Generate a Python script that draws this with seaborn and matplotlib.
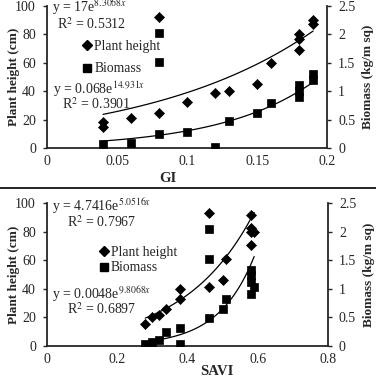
import numpy as np
import pandas as pd
import matplotlib
matplotlib.use('Agg')
import matplotlib.pyplot as plt
import seaborn as sb
from matplotlib.lines import Line2D
from matplotlib.ticker import FormatStrFormatter


# GI panel
gi_height_x = [0.04, 0.04, 0.06, 0.08, 0.08, 0.10, 0.12, 0.13, 0.15, 0.16, 0.18, 0.18, 0.18, 0.19, 0.19]
gi_height_y = [18, 15, 21, 25, 92, 32.5, 38.5, 40, 45, 60, 69, 80, 77, 90, 87]
gi_bio_x = [0.04, 0.06, 0.08, 0.08, 0.08, 0.10, 0.12, 0.13, 0.15, 0.16, 0.18, 0.18, 0.18, 0.19, 0.19]
gi_bio_y = [0.07, 0.09, 0.25, 2.02, 1.51, 0.28, 0.02, 0.48, 0.62, 0.79, 1.11, 1.0, 0.9, 1.3, 1.2]
gi_fit_height = (17, 8.3068, 'y = 17e$^{8.3068x}$', 'R$^2$ = 0.5312')
gi_fit_bio = (0.068, 14.931, 'y = 0.068e$^{14.931x}$', 'R$^2$ = 0.3901')

# SAVI panel
savi_height_x = [0.28, 0.30, 0.32, 0.34, 0.38, 0.38, 0.46, 0.46, 0.50, 0.51, 0.58, 0.58, 0.58, 0.59, 0.58]
savi_height_y = [15.5, 20, 22, 26, 33, 40, 41, 93, 46, 61, 91.5, 82.5, 80, 80, 70.5]
savi_bio_x = [0.28, 0.30, 0.32, 0.34, 0.38, 0.38, 0.46, 0.46, 0.46, 0.50, 0.51, 0.58, 0.58, 0.58, 0.59, 0.58]
savi_bio_y = [0.035, 0.07, 0.1, 0.25, 0.31, 0.03, 0.49, 1.52, 2.05, 0.65, 0.82, 1.33, 1.24, 1.12, 1.03, 0.91]
savi_fit_height = (4.7416, 5.0516, 'y = 4.7416e$^{5.0516x}$', 'R$^2$ = 0.7967')
savi_fit_bio = (0.0048, 9.8068, 'y = 0.0048e$^{9.8068x}$', 'R$^2$ = 0.6897')


def main():
    sb.set_style('white')
    plt.rcParams['font.family'] = ['Liberation Serif', 'DejaVu Serif']
    plt.rcParams['mathtext.fontset'] = 'stix'

    fig = plt.figure(figsize=(3.76, 3.81), dpi=100)

    ax1 = fig.add_axes([0.125, 0.6115, 0.745, 0.3727])
    ax2 = fig.add_axes([0.125, 0.0919, 0.747, 0.3753])

    draw_panel(ax1, gi_height_x, gi_height_y, gi_bio_x, gi_bio_y,
               gi_fit_height, gi_fit_bio, (0.04, 0.19), 0.2, [0, 0.05, 0.1, 0.15, 0.2], 'GI',
               text_pos=[(0.018, 0.99), (0.036, 0.875), (0.02, 0.415), (0.055, 0.31)],
               legend_pos=(0.11, 0.8), label_pos=(0.43, -0.17), spacing=0.7)
    draw_panel(ax2, savi_height_x, savi_height_y, savi_bio_x, savi_bio_y,
               savi_fit_height, savi_fit_bio, (0.28, 0.59), 0.8, [0, 0.2, 0.4, 0.6, 0.8], 'SAVI',
               text_pos=[(0.018, 0.975), (0.07, 0.865), (0.018, 0.36), (0.07, 0.26)],
               legend_pos=(0.17, 0.74), label_pos=(0.605, -0.13), spacing=0.2)

    fig.add_artist(Line2D([0, 1], [0.507, 0.507], color='k', lw=1.2, transform=fig.transFigure))

    plt.savefig('out.png', dpi=100)
    plt.close()


def draw_panel(ax, hx, hy, bx, by, fit_h, fit_b, fit_range, xmax, xticks, xlabel,
               text_pos, legend_pos, label_pos, spacing):
    axr = ax.twinx()

    sb.scatterplot(x=hx, y=hy, ax=ax, marker='D', color='k', s=26, edgecolor='k', linewidth=0.5)
    sb.scatterplot(x=bx, y=by, ax=axr, marker='s', color='k', s=30, edgecolor='k', linewidth=0.5)

    xs = np.linspace(fit_range[0], fit_range[1], 60)
    sb.lineplot(x=xs, y=fit_h[0] * np.exp(fit_h[1] * xs), ax=ax, color='k', lw=0.9)
    sb.lineplot(x=xs, y=fit_b[0] * np.exp(fit_b[1] * xs), ax=axr, color='k', lw=0.9)

    ax.set_xlim(0, xmax)
    ax.set_ylim(0, 100)
    axr.set_ylim(0, 2.5)
    ax.set_xticks(xticks)
    ax.set_yticks(range(0, 101, 20))
    axr.set_yticks([0, 0.5, 1, 1.5, 2, 2.5])
    ax.xaxis.set_major_formatter(FormatStrFormatter('%g'))
    axr.yaxis.set_major_formatter(FormatStrFormatter('%g'))

    for a in (ax, axr):
        a.spines['top'].set_visible(False)
        a.spines['left'].set_linewidth(1.3)
        a.spines['bottom'].set_linewidth(1.3)
        a.spines['right'].set_linewidth(1.3)
        a.tick_params(labelsize=10, width=1, length=3)
    ax.spines['right'].set_visible(False)
    axr.spines['left'].set_visible(False)
    axr.spines['bottom'].set_visible(False)
    ax.tick_params(axis='x', length=0, pad=5)
    ax.tick_params(axis='y', left=True, length=3, pad=5)
    axr.tick_params(axis='y', right=True, length=3, pad=5)

    ax.set_ylabel('Plant height (cm)', fontsize=9.5, fontweight='bold')
    axr.set_ylabel('Biomass (kg/m sq)', fontsize=9.5, fontweight='bold')
    ax.yaxis.set_label_coords(-0.095, 0.5)
    axr.yaxis.set_label_coords(1.125, 0.5)
    ax.set_xlabel(xlabel, fontsize=10.5, fontweight='bold')
    ax.xaxis.set_label_coords(*label_pos)

    texts = [fit_h[2], fit_h[3], fit_b[2], fit_b[3]]
    for (tx, ty), t in zip(text_pos, texts):
        ax.text(tx, ty, t, transform=ax.transAxes, fontsize=10, va='center', ha='left')

    handles = [Line2D([], [], marker='D', color='k', ls='', markersize=5),
               Line2D([], [], marker='s', color='k', ls='', markersize=5.5)]
    ax.legend(handles, ['Plant height', 'Biomass'], loc='upper left', bbox_to_anchor=legend_pos,
              frameon=False, fontsize=9.8, handlelength=0.6, handletextpad=0.2,
              labelspacing=spacing, borderaxespad=0)


if __name__ == '__main__':
    main()
